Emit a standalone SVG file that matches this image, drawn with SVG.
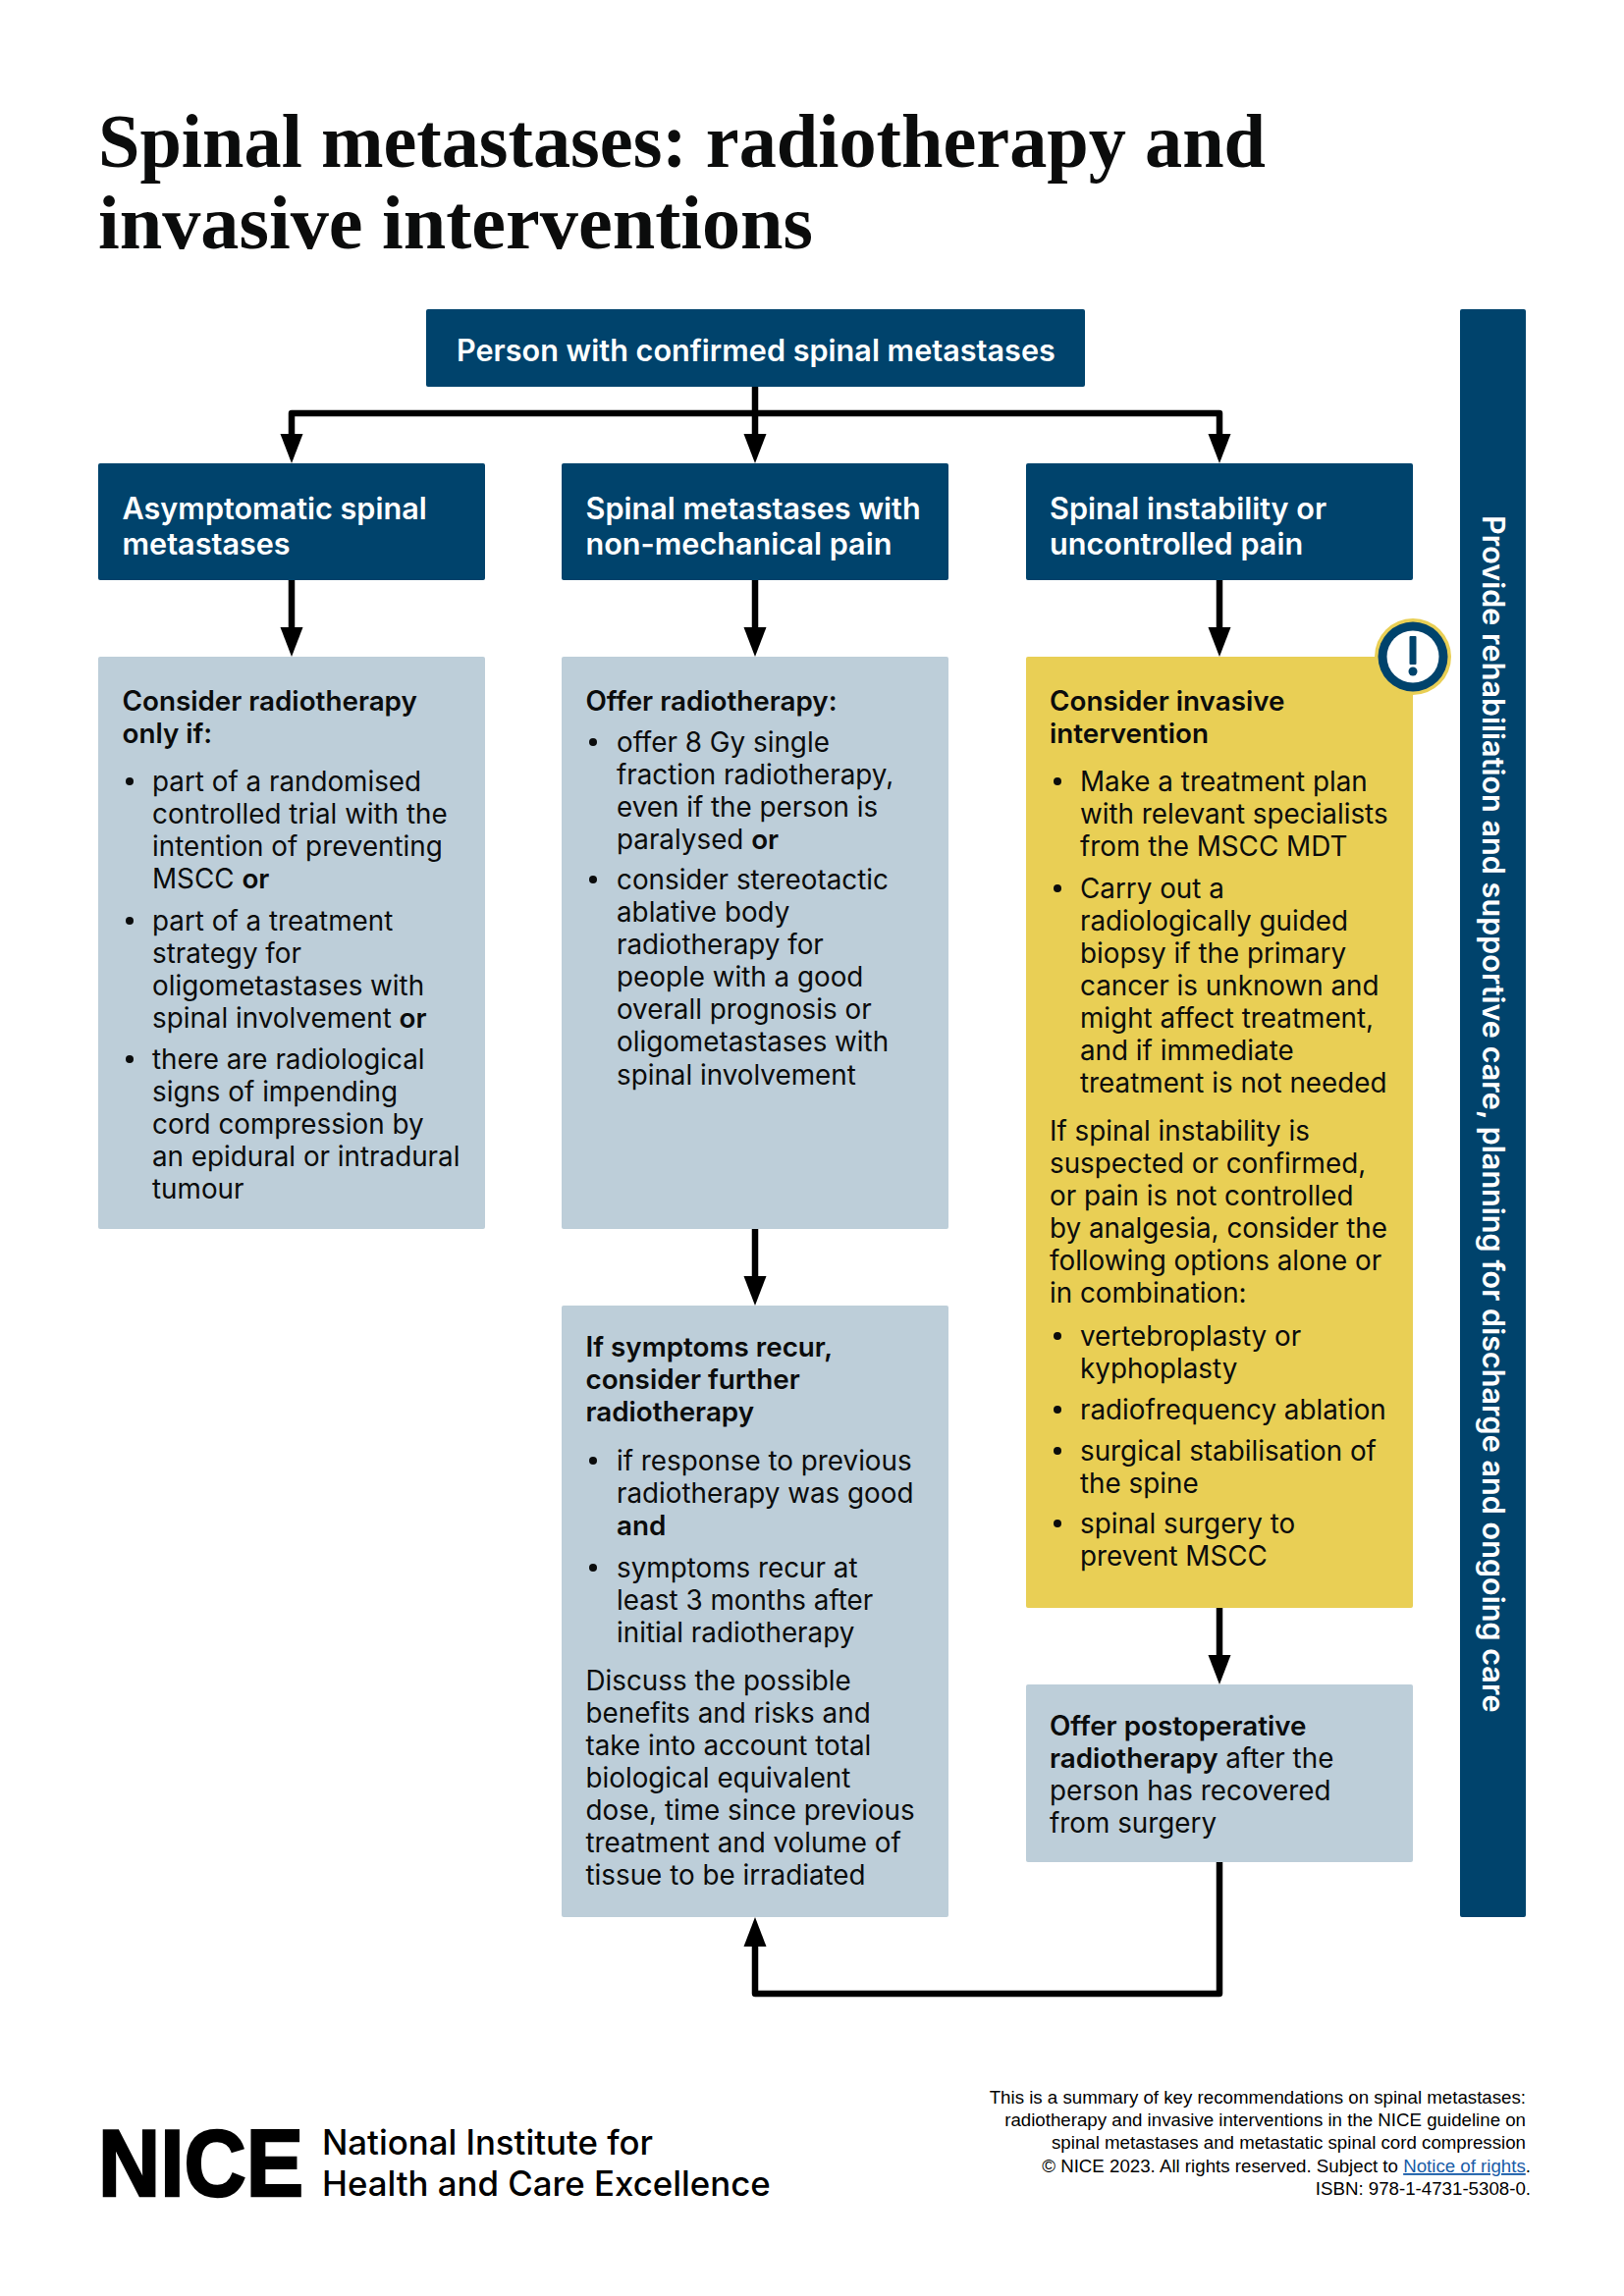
<svg xmlns="http://www.w3.org/2000/svg" width="1654" height="2339" viewBox="0 0 1654 2339">
<style>
text{font-family:Inter,"Liberation Sans",sans-serif;fill:#0b0c0c}
.b{font-size:27.8px;font-weight:400}
.s{font-size:27.8px;font-weight:600}
.h{font-size:30.6px;font-weight:600;fill:#fff}
.navy{fill:#00436c}.light{fill:#bdced9}.yellow{fill:#e9cf55}
.title{font-family:"Liberation Serif",serif;font-size:79px;font-weight:700;fill:#0b0c0c}
.foot{font-family:"Liberation Sans",Arial,sans-serif;font-size:18.7px;text-anchor:end;fill:#000}
.dot{fill:#0b0c0c}
.c{fill:none;stroke:#000;stroke-width:6.500;stroke-linejoin:round;marker-end:url(#a)}
</style>
<defs>
<marker id="a" markerUnits="userSpaceOnUse" markerWidth="32" markerHeight="24" refX="15" refY="12" orient="auto"><path d="M0 .5L30 12L0 23.500Z" fill="#000"/></marker>
</defs>
<rect width="1654" height="2339" fill="#fff"/>
<g id="title"><text class="title" x="100" y="170" textLength="1189" lengthAdjust="spacingAndGlyphs">Spinal metastases: radiotherapy and</text><text class="title" x="100" y="253" textLength="728" lengthAdjust="spacingAndGlyphs">invasive interventions</text></g>
<g id="connectors">
<path class="c" d="M769 394V457"/>
<path class="c" d="M769 421H297V457"/>
<path class="c" d="M769 421H1242V457"/>
<path class="c" d="M297 591V654"/>
<path class="c" d="M769 591V654"/>
<path class="c" d="M1242 591V654"/>
<path class="c" d="M769 1252V1315"/>
<path class="c" d="M1242 1638V1701"/>
<path class="c" d="M1242 1897V2031H769V1968"/>
</g>
<g id="root"><rect class="navy" x="434" y="315" width="671" height="79" rx="2"/><text class="h" x="465" y="367.500">Person with confirmed spinal metastases</text></g>
<g id="head1"><rect class="navy" x="100" y="472" width="394" height="119" rx="2"/><text class="h" x="124.500" y="529">Asymptomatic spinal</text><text class="h" x="124.500" y="565">metastases</text></g>
<g id="head2"><rect class="navy" x="572" y="472" width="394" height="119" rx="2"/><text class="h" x="596.500" y="529">Spinal metastases with</text><text class="h" x="596.500" y="565">non-mechanical pain</text></g>
<g id="head3"><rect class="navy" x="1045" y="472" width="394" height="119" rx="2"/><text class="h" x="1069" y="529">Spinal instability or</text><text class="h" x="1069" y="565">uncontrolled pain</text></g>
<g id="box1"><rect class="light" x="100" y="669" width="394" height="583" rx="2"/>
<text class="s" x="124.500" y="723.500">Consider radiotherapy</text><text class="s" x="124.500" y="756.500">only if:</text>
<circle class="dot" cx="132" cy="796" r="4"/>
<text class="b" x="155" y="805.500">part of a randomised</text><text class="b" x="155" y="838.500">controlled trial with the</text><text class="b" x="155" y="871.500">intention of preventing</text><text class="b" x="155" y="904.500">MSCC <tspan class="s">or</tspan></text>
<circle class="dot" cx="132" cy="938" r="4"/>
<text class="b" x="155" y="947.500">part of a treatment</text><text class="b" x="155" y="980.500">strategy for</text><text class="b" x="155" y="1013.500">oligometastases with</text><text class="b" x="155" y="1046.500">spinal involvement <tspan class="s">or</tspan></text>
<circle class="dot" cx="132" cy="1079" r="4"/>
<text class="b" x="155" y="1088.500">there are radiological</text><text class="b" x="155" y="1121.500">signs of impending</text><text class="b" x="155" y="1154.500">cord compression by</text><text class="b" x="155" y="1187.500">an epidural or intradural</text><text class="b" x="155" y="1221">tumour</text>
</g>
<g id="box2"><rect class="light" x="572" y="669" width="394" height="583" rx="2"/>
<text class="s" x="596.500" y="723.500">Offer radiotherapy:</text>
<circle class="dot" cx="604" cy="756" r="4"/>
<text class="b" x="628" y="765.500">offer 8 Gy single</text><text class="b" x="628" y="798.500">fraction radiotherapy,</text><text class="b" x="628" y="831.500">even if the person is</text><text class="b" x="628" y="864.500">paralysed <tspan class="s">or</tspan></text>
<circle class="dot" cx="604" cy="896" r="4"/>
<text class="b" x="628" y="905.500">consider stereotactic</text><text class="b" x="628" y="938.500">ablative body</text><text class="b" x="628" y="971.500">radiotherapy for</text><text class="b" x="628" y="1004.500">people with a good</text><text class="b" x="628" y="1037.500">overall prognosis or</text><text class="b" x="628" y="1071">oligometastases with</text><text class="b" x="628" y="1104.500">spinal involvement</text>
</g>
<g id="box2b"><rect class="light" x="572" y="1330" width="394" height="623" rx="2"/>
<text class="s" x="596.500" y="1381.500">If symptoms recur,</text><text class="s" x="596.500" y="1414.500">consider further</text><text class="s" x="596.500" y="1447.500">radiotherapy</text>
<circle class="dot" cx="604" cy="1488" r="4"/>
<text class="b" x="628" y="1497.500">if response to previous</text><text class="b" x="628" y="1530.500">radiotherapy was good</text><text class="s" x="628" y="1563.500">and</text>
<circle class="dot" cx="604" cy="1597" r="4"/>
<text class="b" x="628" y="1606.500">symptoms recur at</text><text class="b" x="628" y="1639.500">least 3 months after</text><text class="b" x="628" y="1672.500">initial radiotherapy</text>
<text class="b" x="596.500" y="1721.500">Discuss the possible</text><text class="b" x="596.500" y="1754.500">benefits and risks and</text><text class="b" x="596.500" y="1787.500">take into account total</text><text class="b" x="596.500" y="1820.500">biological equivalent</text><text class="b" x="596.500" y="1854">dose, time since previous</text><text class="b" x="596.500" y="1887">treatment and volume of</text><text class="b" x="596.500" y="1920">tissue to be irradiated</text>
</g>
<g id="box3"><rect class="yellow" x="1045" y="669" width="394" height="969" rx="2"/>
<text class="s" x="1069" y="723.500">Consider invasive</text><text class="s" x="1069" y="756.500">intervention</text>
<circle class="dot" cx="1077" cy="796" r="4"/>
<text class="b" x="1100" y="805.500">Make a treatment plan</text><text class="b" x="1100" y="838.500">with relevant specialists</text><text class="b" x="1100" y="871.500">from the MSCC MDT</text>
<circle class="dot" cx="1077" cy="905" r="4"/>
<text class="b" x="1100" y="914.500">Carry out a</text><text class="b" x="1100" y="947.500">radiologically guided</text><text class="b" x="1100" y="980.500">biopsy if the primary</text><text class="b" x="1100" y="1013.500">cancer is unknown and</text><text class="b" x="1100" y="1046.500">might affect treatment,</text><text class="b" x="1100" y="1079.500">and if immediate</text><text class="b" x="1100" y="1112.500">treatment is not needed</text>
<text class="b" x="1069" y="1161.500">If spinal instability is</text><text class="b" x="1069" y="1194.500">suspected or confirmed,</text><text class="b" x="1069" y="1227.500">or pain is not controlled</text><text class="b" x="1069" y="1260.500">by analgesia, consider the</text><text class="b" x="1069" y="1293.500">following options alone or</text><text class="b" x="1069" y="1326.500">in combination:</text>
<circle class="dot" cx="1077" cy="1361" r="4"/>
<text class="b" x="1100" y="1370.500">vertebroplasty or</text><text class="b" x="1100" y="1403.500">kyphoplasty</text>
<circle class="dot" cx="1077" cy="1436" r="4"/>
<text class="b" x="1100" y="1445.500">radiofrequency ablation</text>
<circle class="dot" cx="1077" cy="1478" r="4"/>
<text class="b" x="1100" y="1487.500">surgical stabilisation of</text><text class="b" x="1100" y="1520.500">the spine</text>
<circle class="dot" cx="1077" cy="1552" r="4"/>
<text class="b" x="1100" y="1561.500">spinal surgery to</text><text class="b" x="1100" y="1594.500">prevent MSCC</text>
</g>
<g id="warning"><circle cx="1439" cy="669" r="39" fill="#e9cf55"/><circle cx="1439" cy="669" r="35.500" fill="#00436c"/><circle cx="1439" cy="669" r="26.500" fill="#fff"/><rect x="1435.500" y="648" width="7" height="29" rx="1" fill="#00436c"/><circle cx="1439" cy="684" r="4.500" fill="#00436c"/></g>
<g id="box4"><rect class="light" x="1045" y="1716" width="394" height="181" rx="2"/>
<text class="s" x="1069" y="1767.500">Offer postoperative</text><text x="1069" y="1800.500" class="b"><tspan class="s">radiotherapy</tspan> after the</text><text class="b" x="1069" y="1833.500">person has recovered</text><text class="b" x="1069" y="1866.500">from surgery</text>
</g>
<g id="side"><rect class="navy" x="1487" y="315" width="67" height="1638" rx="2"/><text class="h" transform="translate(1510 525) rotate(90)">Provide rehabiliation and supportive care, planning for discharge and ongoing care</text></g>
<g id="logo"><text x="100" y="2237" textLength="209" lengthAdjust="spacingAndGlyphs" style="font-family:'Liberation Sans',sans-serif;font-size:96px;font-weight:700;fill:#000;stroke:#000;stroke-width:2.500">NICE</text>
<text x="328" y="2195" style="font-size:34.800px;font-weight:500;fill:#000">National Institute for</text><text x="328" y="2237" style="font-size:34.800px;font-weight:500;fill:#000">Health and Care Excellence</text></g>
<g id="footer"><text class="foot" x="1554" y="2143">This is a summary of key recommendations on spinal metastases:</text><text class="foot" x="1554" y="2166">radiotherapy and invasive interventions in the NICE guideline on</text><text class="foot" x="1554" y="2189">spinal metastases and metastatic spinal cord compression</text><text class="foot" x="1559" y="2213">© NICE 2023. All rights reserved. Subject to <tspan fill="#1a5da8" text-decoration="underline">Notice of rights</tspan>.</text><text class="foot" x="1559" y="2236">ISBN: 978-1-4731-5308-0.</text></g>
</svg>
